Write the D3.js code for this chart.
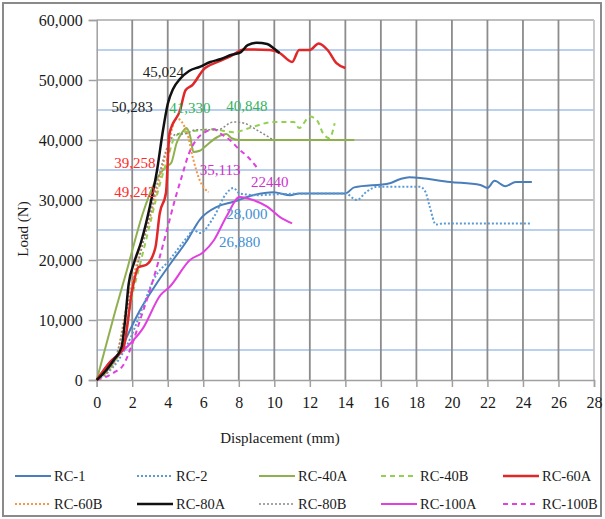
<html>
<head>
<script src="https://d3js.org/d3.v7.min.js"></script>
<style>
body { margin: 0; background: #fff; }
svg { display: block; }
</style>
</head>
<body>
<svg width="605" height="519"></svg>
<script>
// load-displacement curves: [displacement mm, load N]
var rc1 = [[0,0],[0.5,1300],[0.75,2200],[1.3,4500],[1.7,7200],[2.45,11700],[3.4,16200],[4.3,20000],[5.1,23300],[5.8,26700],[6.8,28900],[7.7,29700],[8.8,30800],[9.95,31300],[10.9,30800],[11.4,31100],[14.0,31100],[14.5,32100],[16.5,32800],[17.1,33500],[17.6,33800],[19.9,33000],[21.6,32500],[22.0,32000],[22.4,33200],[23.0,32300],[23.6,33000],[24.5,33000]];
var rc2 = [[0,0],[0.6,1200],[1.2,3200],[1.9,7000],[2.6,12200],[3.2,16700],[4.1,20000],[5.1,23800],[5.45,25000],[5.8,24500],[6.6,27200],[7.3,31100],[7.7,32000],[8.05,31100],[9.0,30800],[10.5,31000],[14.0,31100],[14.65,30000],[15.2,31400],[15.8,32200],[18.2,32200],[18.5,31400],[18.75,28900],[19.1,25900],[19.5,26100],[24.4,26100]];
var rc40a = [[0,0],[0.5,5500],[1.0,11000],[1.7,18300],[2.6,27800],[3.2,32500],[3.6,34500],[4.0,35700],[4.2,36200],[4.5,39500],[4.8,41200],[5.05,42000],[5.25,40800],[5.45,38000],[5.8,38200],[6.1,38900],[6.8,40500],[7.3,41000],[7.6,40300],[8.0,40000],[14.5,40000]];
var rc40b = [[0,0],[1.0,3000],[1.5,6000],[2.0,14000],[2.5,20000],[3.0,26000],[3.5,32000],[4.0,37000],[4.4,40500],[4.9,41300],[5.5,41500],[6.5,41800],[7.7,41300],[8.8,42200],[9.95,43000],[11.1,43000],[11.4,42000],[12.0,43900],[12.4,43300],[12.75,41100],[13.1,40300],[13.4,42800]];
var rc60a = [[0,0],[0.75,3000],[1.5,5300],[2.0,15000],[2.35,18800],[2.8,19200],[3.3,22000],[3.55,27800],[3.9,31200],[4.1,41100],[4.7,45000],[5.0,48300],[5.4,49200],[6.0,51700],[6.8,53000],[7.5,53900],[8.3,55100],[9.75,55000],[10.3,54500],[11.0,53000],[11.4,55000],[12.0,55000],[12.5,56100],[13.0,55000],[13.5,52800],[14.0,52000]];
var rc60b = [[0,0],[1.0,3000],[1.8,14000],[2.5,22000],[3.0,27000],[3.5,33000],[4.0,39000],[4.5,43600],[5.1,41100],[5.4,37200],[5.8,33300],[6.3,31300]];
var rc80a = [[0,0],[0.5,1500],[1.0,3500],[1.4,5500],[1.6,10000],[1.8,16000],[2.1,19500],[2.5,23000],[3.0,29000],[3.4,35000],[3.7,41000],[4.0,46000],[4.3,48500],[4.7,50200],[5.2,51500],[5.8,52200],[6.4,53000],[7.0,53500],[7.6,54200],[8.1,54600],[8.5,55800],[9.0,56200],[9.6,56000],[10.0,55200],[10.3,54500]];
var rc80b = [[0,0],[1.0,3200],[1.8,13000],[2.5,21500],[3.0,27500],[3.5,34000],[4.0,39000],[4.5,41000],[4.9,41000],[5.6,41700],[6.8,41700],[7.7,43000],[8.3,42800],[9.0,41700],[9.4,41000],[9.95,40000]];
var rc100a = [[0,0],[0.75,3000],[1.7,5500],[2.6,8600],[3.6,14200],[4.1,15500],[5.25,20000],[6.0,21300],[6.6,23300],[7.3,27200],[8.05,30500],[8.8,30000],[9.6,28900],[10.3,27200],[11.0,26100]];
var rc100b = [[0,0],[0.5,500],[1.0,1300],[1.5,2500],[2.0,6000],[2.5,10500],[3.0,15000],[3.5,20000],[4.0,25500],[4.4,30000],[4.8,34000],[5.2,37800],[5.6,40000],[6.1,41300],[6.6,41800],[7.0,41000],[7.5,40000],[8.0,38500],[8.5,37200],[9.0,35500]];

var seriesNames = ["RC-1","RC-2","RC-40A","RC-40B","RC-60A","RC-60B","RC-80A","RC-80B","RC-100A","RC-100B"];
var seriesData = [rc1, rc2, rc40a, rc40b, rc60a, rc60b, rc80a, rc80b, rc100a, rc100b];

// peak-load annotations: [text, x mm, load N, group]
var notes = [
  ["45,024", 3.75, 51300, "black"],
  ["50,283", 2.0, 45500, "black"],
  ["41,330", 5.25, 45300, "green"],
  ["40,848", 8.45, 45700, "green"],
  ["39,258", 2.15, 36200, "red"],
  ["49,242", 2.15, 31300, "red"],
  ["35,113", 6.95, 35000, "magenta"],
  ["22440", 9.75, 33000, "magenta"],
  ["28,000", 8.45, 27700, "blue"],
  ["26,880", 8.05, 23000, "blue"]
];

var xTicks = d3.range(0, 29, 2);
var yTicks = d3.range(0, 60001, 10000);
var yMinor = d3.range(5000, 60000, 10000);

var serif = "'Liberation Serif', 'Times New Roman', 'DejaVu Serif', serif";
var svg = d3.select("svg");
var x = d3.scaleLinear().domain([0, 28]).range([96.7, 594]);
var y = d3.scaleLinear().domain([0, 60000]).range([380, 20]);

var styles = {
  "RC-1":   { color: "#4a7ebb", width: 2,   dash: null },
  "RC-2":   { color: "#5b9bd5", width: 2,   dash: "2,2" },
  "RC-40A": { color: "#8fb04f", width: 2,   dash: null },
  "RC-40B": { color: "#92d050", width: 2,   dash: "5,4" },
  "RC-60A": { color: "#e0282a", width: 2.5, dash: null },
  "RC-60B": { color: "#f79646", width: 2,   dash: "2,2" },
  "RC-80A": { color: "#111111", width: 2.5, dash: null },
  "RC-80B": { color: "#888888", width: 1.5, dash: "2,2" },
  "RC-100A":{ color: "#e040e0", width: 2,   dash: null },
  "RC-100B":{ color: "#e040e0", width: 2,   dash: "5,4" }
};
var noteColors = { black: "#222", green: "#33b35a", red: "#ff2a2a", magenta: "#cc33cc", blue: "#3f8fd2" };

// outer frame
svg.append("rect").attr("x", 3).attr("y", 3).attr("width", 598).attr("height", 513)
  .attr("fill", "none").attr("stroke", "#8a8a8a").attr("stroke-width", 2);

// grid
svg.append("g").selectAll("line").data(yMinor).enter().append("line")
  .attr("x1", x(0)).attr("x2", x(28))
  .attr("y1", function (d) { return y(d); }).attr("y2", function (d) { return y(d); })
  .attr("stroke", "#a4bfe8").attr("stroke-width", 1.5);
svg.append("g").selectAll("line").data(yTicks.slice(1)).enter().append("line")
  .attr("x1", x(0)).attr("x2", x(28))
  .attr("y1", function (d) { return y(d); }).attr("y2", function (d) { return y(d); })
  .attr("stroke", "#a8a8a8").attr("stroke-width", 1.5);
svg.append("g").selectAll("line").data(xTicks.slice(1)).enter().append("line")
  .attr("x1", function (d) { return x(d); }).attr("x2", function (d) { return x(d); })
  .attr("y1", y(0)).attr("y2", y(60000))
  .attr("stroke", function (d) { return d === 28 ? "#c4c4c4" : "#8c8c8c"; })
  .attr("stroke-width", 1.8);

// axes
var xAxis = svg.append("g").attr("transform", "translate(0," + y(0) + ")")
  .call(d3.axisBottom(x).tickValues(xTicks).tickSize(7).tickPadding(10).tickFormat(d3.format("d")));
var yAxis = svg.append("g").attr("transform", "translate(" + x(0) + ",0)")
  .call(d3.axisLeft(y).tickValues(yTicks).tickSize(8).tickPadding(6).tickFormat(d3.format(",")));
[xAxis, yAxis].forEach(function (a) {
  a.attr("font-family", serif).attr("font-size", 16);
  a.select(".domain").attr("stroke", "#a0a0a0").attr("stroke-width", 1.5);
  a.selectAll(".tick line").attr("stroke", "#a0a0a0").attr("stroke-width", 1.5);
  a.selectAll("text").attr("fill", "#1a1a1a");
});

svg.append("text").attr("x", 280).attr("y", 443).attr("text-anchor", "middle")
  .attr("font-family", serif).attr("font-size", 15).attr("fill", "#1a1a1a").text("Displacement (mm)");
svg.append("text").attr("transform", "translate(28,229) rotate(-90)").attr("text-anchor", "middle")
  .attr("font-family", serif).attr("font-size", 15).attr("fill", "#1a1a1a").text("Load (N)");

// curves
var line = d3.line().x(function (d) { return x(d[0]); }).y(function (d) { return y(d[1]); })
  .curve(d3.curveMonotoneX);
var drawOrder = [0, 1, 2, 3, 9, 8, 5, 7, 4, 6];
drawOrder.forEach(function (i) {
  var s = styles[seriesNames[i]];
  svg.append("path").datum(seriesData[i]).attr("d", line)
    .attr("fill", "none").attr("stroke", s.color).attr("stroke-width", s.width)
    .attr("stroke-dasharray", s.dash).attr("stroke-linejoin", "round");
});

// annotations
svg.append("g").selectAll("text").data(notes).enter().append("text")
  .attr("x", function (d) { return x(d[1]); })
  .attr("y", function (d) { return y(d[2]); })
  .attr("dy", "0.35em").attr("text-anchor", "middle")
  .attr("font-family", serif).attr("font-size", 15)
  .attr("fill", function (d) { return noteColors[d[3]]; })
  .text(function (d) { return d[0]; });

// legend, 5 columns by 2 rows
var legend = svg.append("g").selectAll("g").data(seriesNames).enter().append("g")
  .attr("transform", function (d, i) {
    return "translate(" + (15 + (i % 5) * 122) + "," + (476 + Math.floor(i / 5) * 28) + ")";
  });
legend.append("line").attr("x1", 0).attr("x2", 36).attr("y1", 0).attr("y2", 0)
  .attr("stroke", function (d) { return styles[d].color; })
  .attr("stroke-width", function (d) { return styles[d].width; })
  .attr("stroke-dasharray", function (d) { return styles[d].dash; });
legend.append("text").attr("x", 39).attr("dy", "0.35em")
  .attr("font-family", serif).attr("font-size", 14.5).attr("fill", "#1a1a1a")
  .text(function (d) { return d; });
</script>
</body>
</html>
